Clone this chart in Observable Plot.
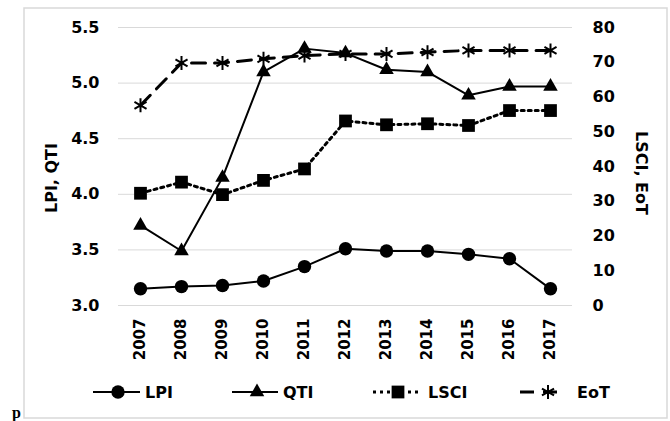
<!DOCTYPE html>
<html><head><meta charset="utf-8">
<script src="https://cdn.jsdelivr.net/npm/d3@7"></script>
<script src="https://cdn.jsdelivr.net/npm/@observablehq/plot@0.6"></script>
<style>
body{margin:0;background:#fff}
#chart{position:relative;width:670px;height:421px}
</style>
</head><body><div id="chart"></div>
<script>
const years = ["2007","2008","2009","2010","2011","2012","2013","2014","2015","2016","2017"];
const lpi  = [3.15,3.17,3.18,3.22,3.35,3.51,3.49,3.49,3.46,3.42,3.15];
const qti  = [3.72,3.49,4.15,5.10,5.31,5.27,5.12,5.10,4.89,4.97,4.97];
const lsci = [32.3,35.5,31.9,36.0,39.3,53.1,52.0,52.3,51.8,56.1,56.1];
const eot  = [57.6,69.8,69.8,71.0,71.9,72.4,72.4,72.9,73.4,73.4,73.4];
const leftTicks  = [3.0,3.5,4.0,4.5,5.0,5.5];
const rightTicks = [0,10,20,30,40,50,60,70,80];
const leftDomain = [3,5.5], rightDomain = [0,80];
const leftTitle = "LPI, QTI", rightTitle = "LSCI, EoT";
const seriesNames = ["LPI","QTI","LSCI","EoT"];

const toLeft = v => leftDomain[0] + (v - rightDomain[0]) * (leftDomain[1]-leftDomain[0]) / (rightDomain[1]-rightDomain[0]);
const rows = (vals, conv = v => v) => years.map((y,i) => ({year:y, value:conv(vals[i])}));
const dLPI = rows(lpi), dQTI = rows(qti), dLSCI = rows(lsci, toLeft), dEoT = rows(eot, toLeft);

const font = "'DejaVu Sans', 'Liberation Sans', sans-serif";
const fs = 16, fsx = 15;

const plot = Plot.plot({
  width: 670, height: 421,
  marginLeft: 118, marginRight: 98, marginTop: 27, marginBottom: 116,
  style: {fontFamily: font, fontSize: fs + "px", fontWeight: "bold", color: "#000", background: "transparent", overflow: "visible"},
  x: {type: "point", domain: years, padding: 0.5},
  y: {domain: leftDomain},
  marks: [
    Plot.ruleY(leftTicks, {stroke: "#d9d9d9", strokeWidth: 1}),
    Plot.axisY(leftTicks, {anchor: "left", tickSize: 0, tickPadding: 19, tickFormat: d3.format(".1f"), label: null, fontSize: fs}),
    Plot.axisY(rightTicks.map(toLeft), {anchor: "right", tickSize: 0, tickPadding: 20, tickFormat: (d,i) => String(rightTicks[i]), label: null, fontSize: fs}),
    Plot.axisX({tickSize: 0, tickRotate: -90, tickPadding: 13, label: null, fontSize: fsx}),
    Plot.line(dEoT, {x: "year", y: "value", stroke: "#000", strokeWidth: 3, strokeDasharray: "14 9"}),
    Plot.line(dLSCI, {x: "year", y: "value", stroke: "#000", strokeWidth: 3, strokeDasharray: "3 4"}),
    Plot.line(dQTI, {x: "year", y: "value", stroke: "#000", strokeWidth: 2}),
    Plot.line(dLPI, {x: "year", y: "value", stroke: "#000", strokeWidth: 2}),
    Plot.dot(dEoT, {x: "year", y: "value", symbol: "asterisk", r: 6.6, stroke: "#000", strokeWidth: 2}),
    Plot.dot(dLSCI, {x: "year", y: "value", symbol: "square", r: 7.2, fill: "#000", stroke: "none"}),
    Plot.dot(dQTI, {x: "year", y: "value", symbol: "triangle", r: 5.4, fill: "#000", stroke: "none"}),
    Plot.dot(dLPI, {x: "year", y: "value", symbol: "circle", r: 6.7, fill: "#000", stroke: "none"})
  ]
});
document.getElementById("chart").appendChild(plot);

// frame, titles, legend and side letter
const svg = d3.select(plot);
svg.insert("rect", ":first-child").attr("x", 24).attr("y", 8).attr("width", 643).attr("height", 410)
  .attr("fill", "none").attr("stroke", "#d9d9d9").attr("stroke-width", 1.5);
const tg = svg.append("g").attr("font-family", font).attr("font-size", fs).attr("font-weight", "bold")
  .attr("text-anchor", "middle").attr("fill", "#000");
tg.append("text").attr("transform", "translate(51,178) rotate(-90)").attr("dy", "0.35em").text(leftTitle);
tg.append("text").attr("transform", "translate(642,173) rotate(90)").attr("dy", "0.35em").text(rightTitle);

const lg = svg.append("g").attr("font-family", font).attr("font-size", fs).attr("font-weight", "bold")
  .attr("text-anchor", "start").attr("fill", "#000");
const ly = 392;
const items = [
  {name: seriesNames[0], x1: 93, x2: 140, mx: 118, sym: d3.symbolCircle, size: Math.PI*6.7*6.7, dash: null, w: 2, tx: 145},
  {name: seriesNames[1], x1: 232, x2: 278, mx: 257, sym: d3.symbolTriangle, size: Math.PI*5.4*5.4, dash: null, w: 2, tx: 283},
  {name: seriesNames[2], x1: 373, x2: 420, mx: 398, sym: d3.symbolSquare, size: Math.PI*7.2*7.2, dash: "3 4", w: 3, tx: 428},
  {name: seriesNames[3], x1: 520, x2: 562, mx: 548, sym: d3.symbolAsterisk, size: Math.PI*6.6*6.6, dash: "14 9", w: 3, tx: 577}
];
for (const it of items) {
  lg.append("line").attr("x1", it.x1).attr("x2", it.x2).attr("y1", ly).attr("y2", ly)
    .attr("stroke", "#000").attr("stroke-width", it.w).attr("stroke-dasharray", it.dash);
  const p = lg.append("path").attr("transform", `translate(${it.mx},${ly})`).attr("d", d3.symbol(it.sym, it.size)());
  if (it.sym === d3.symbolAsterisk) p.attr("fill", "none").attr("stroke", "#000").attr("stroke-width", 2);
  else p.attr("fill", "#000");
  lg.append("text").attr("x", it.tx).attr("y", ly).attr("dy", "0.35em").text(it.name);
}
svg.append("text").attr("x", 12).attr("y", 417.5).attr("text-anchor", "start")
  .attr("font-family", "'Liberation Serif', 'DejaVu Serif', serif")
  .attr("font-weight", "bold").attr("font-size", 16).text("p");
</script>
</body></html>
